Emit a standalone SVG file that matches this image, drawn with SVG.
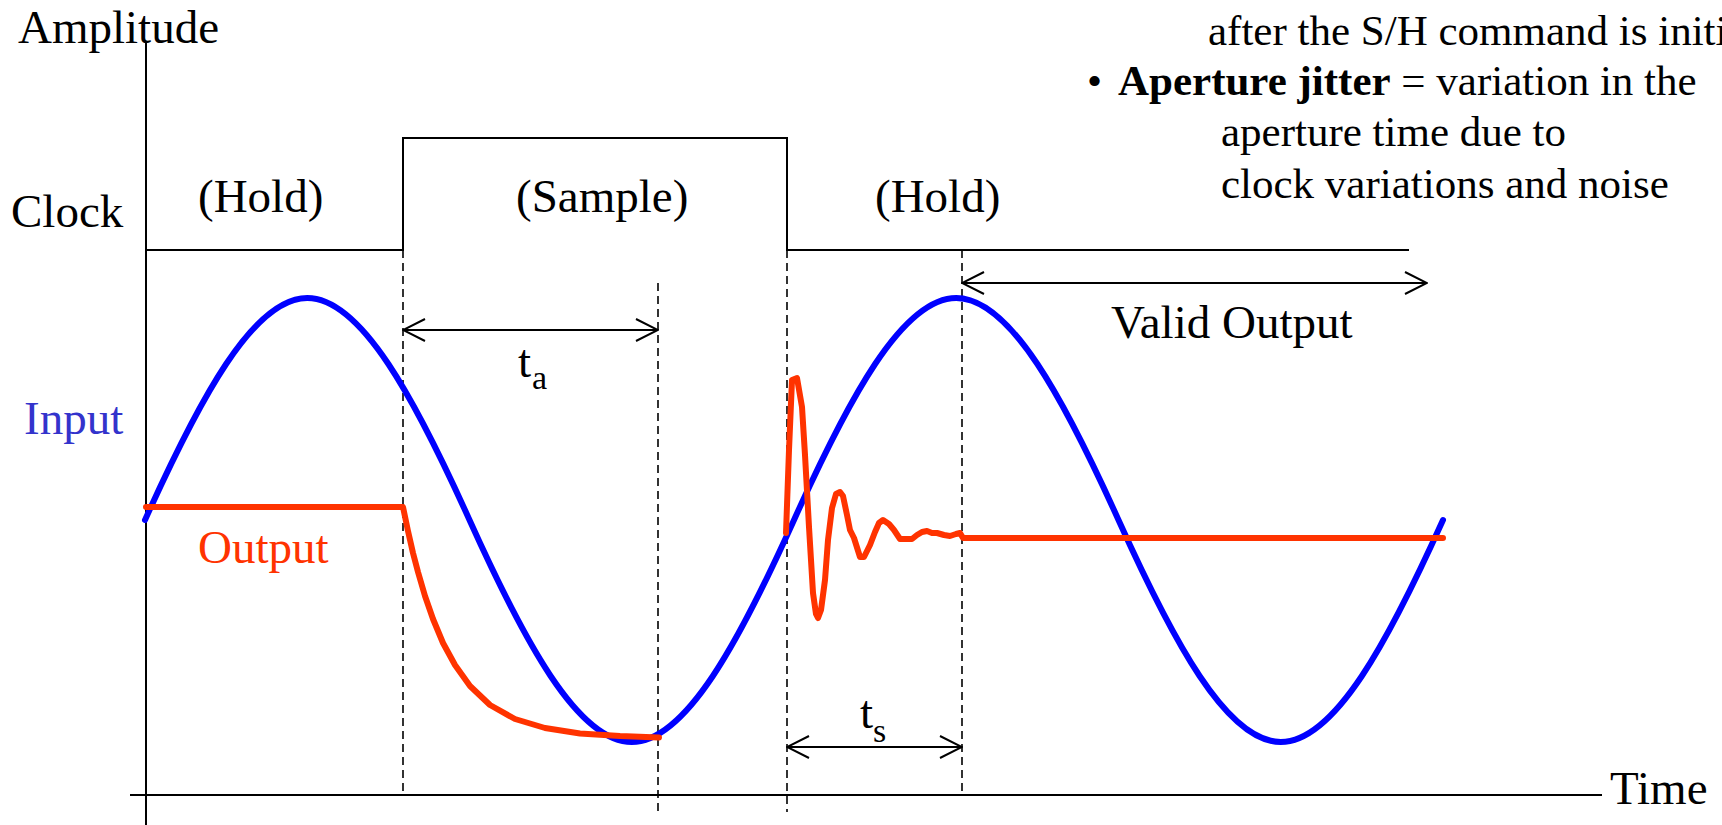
<svg xmlns="http://www.w3.org/2000/svg" width="1722" height="825" viewBox="0 0 1722 825">
<style>
text{font-family:"Liberation Serif","Times New Roman",serif;fill:#000}
.lbl{font-size:47px}
.blk{font-size:43px}
.sub{font-size:34px}
.ln{stroke:#000;stroke-width:2;fill:none}
.dash{stroke:#000;stroke-width:1.6;stroke-dasharray:8 5;fill:none}
.dim{stroke:#000;stroke-width:2;fill:none;marker-start:url(#arr);marker-end:url(#arr)}
.blue{stroke:#0000FF;stroke-width:6;fill:none;stroke-linejoin:round;stroke-linecap:round}
.red{stroke:#FF3300;stroke-width:6;fill:none;stroke-linejoin:round;stroke-linecap:round}
</style>
<defs>
<marker id="arr" markerUnits="userSpaceOnUse" viewBox="0 0 24 24" refX="23" refY="12" markerWidth="24" markerHeight="24" orient="auto-start-reverse">
<path d="M1,1 L23,12 L1,23" fill="none" stroke="#000" stroke-width="2"/>
</marker>
</defs>
<rect width="1722" height="825" fill="#fff"/>

<g id="axes">
<line class="ln" x1="146" y1="42" x2="146" y2="825"/>
<line class="ln" x1="130" y1="795" x2="1602" y2="795"/>
<text class="lbl" x="18" y="43">Amplitude</text>
<text class="lbl" x="1610" y="804">Time</text>
</g>

<g id="clock">
<polyline class="ln" points="146,250 403,250 403,138 787,138 787,250 1409,250"/>
<text class="lbl" x="11" y="227">Clock</text>
<text class="lbl" x="198" y="212">(Hold)</text>
<text class="lbl" x="516" y="212">(Sample)</text>
<text class="lbl" x="875" y="212">(Hold)</text>
</g>

<g id="connectors">
<line class="dash" x1="403" y1="250" x2="403" y2="795"/>
<line class="dash" x1="658" y1="283" x2="658" y2="812"/>
<line class="dash" x1="787" y1="250" x2="787" y2="812"/>
<line class="dash" x1="962" y1="250" x2="962" y2="795"/>
<line class="dim" x1="403" y1="330" x2="658" y2="330"/>
<line class="dim" x1="787" y1="747" x2="962" y2="747"/>
<line class="dim" x1="962" y1="283" x2="1427" y2="283"/>
</g>

<g id="ta">
<text class="lbl" x="518" y="377">t</text>
<text class="sub" x="532" y="389">a</text>
</g>
<g id="ts">
<text class="lbl" x="860" y="728">t</text>
<text class="sub" x="873" y="742">s</text>
</g>
<g id="valid">
<text class="lbl" x="1111" y="338">Valid Output</text>
</g>

<g id="input">
<path class="blue" d="M145,520 C199.08,400 253.17,298 307.25,298 C361.33,298 415.42,400 469.5,520 C523.58,640 577.67,742 631.75,742 C685.83,742 739.92,640 794,520 C848.08,400 902.17,298 956.25,298 C1010.33,298 1064.42,400 1118.5,520 C1172.58,640 1226.67,742 1280.75,742 C1334.83,742 1388.92,640 1443,520"/>
<text class="lbl" x="24" y="434" style="fill:#3333CC">Input</text>
</g>

<g id="output">
<polyline class="red" points="146,507 403,507 408,531 413,553 418,572 425,596 433,619 443,643 455,665 470,686 490,705 515,719 545,728 580,733.5 620,736 659,737.5"/>
<polyline class="red" points="786,533 789,450 792,380 797,378 802,407 805,455 809,527 813,593 816,614 818,618 821,610 825,580 828,540 832,508 836,494 840,492 843,496 847,515 850,530 854,538 860,557 864,557 870,545 875,532 879,523 883,520 889,524 894,530 900,539 912,539 917,535 922,532 927,531 932,533 937,533 944,535 950,536 956,534 960,533 963,538 1443,538"/>
<text class="lbl" x="198" y="563" style="fill:#FF3300">Output</text>
</g>

<g id="notes">
<text class="blk" x="1208" y="45">after the S/H command is initi</text>
<text class="blk" x="1087" y="95">•</text>
<text class="blk" x="1118" y="95"><tspan font-weight="bold">Aperture jitter</tspan> = variation in the</text>
<text class="blk" x="1221" y="146">aperture time due to</text>
<text class="blk" x="1221" y="198">clock variations and noise</text>
</g>
</svg>
